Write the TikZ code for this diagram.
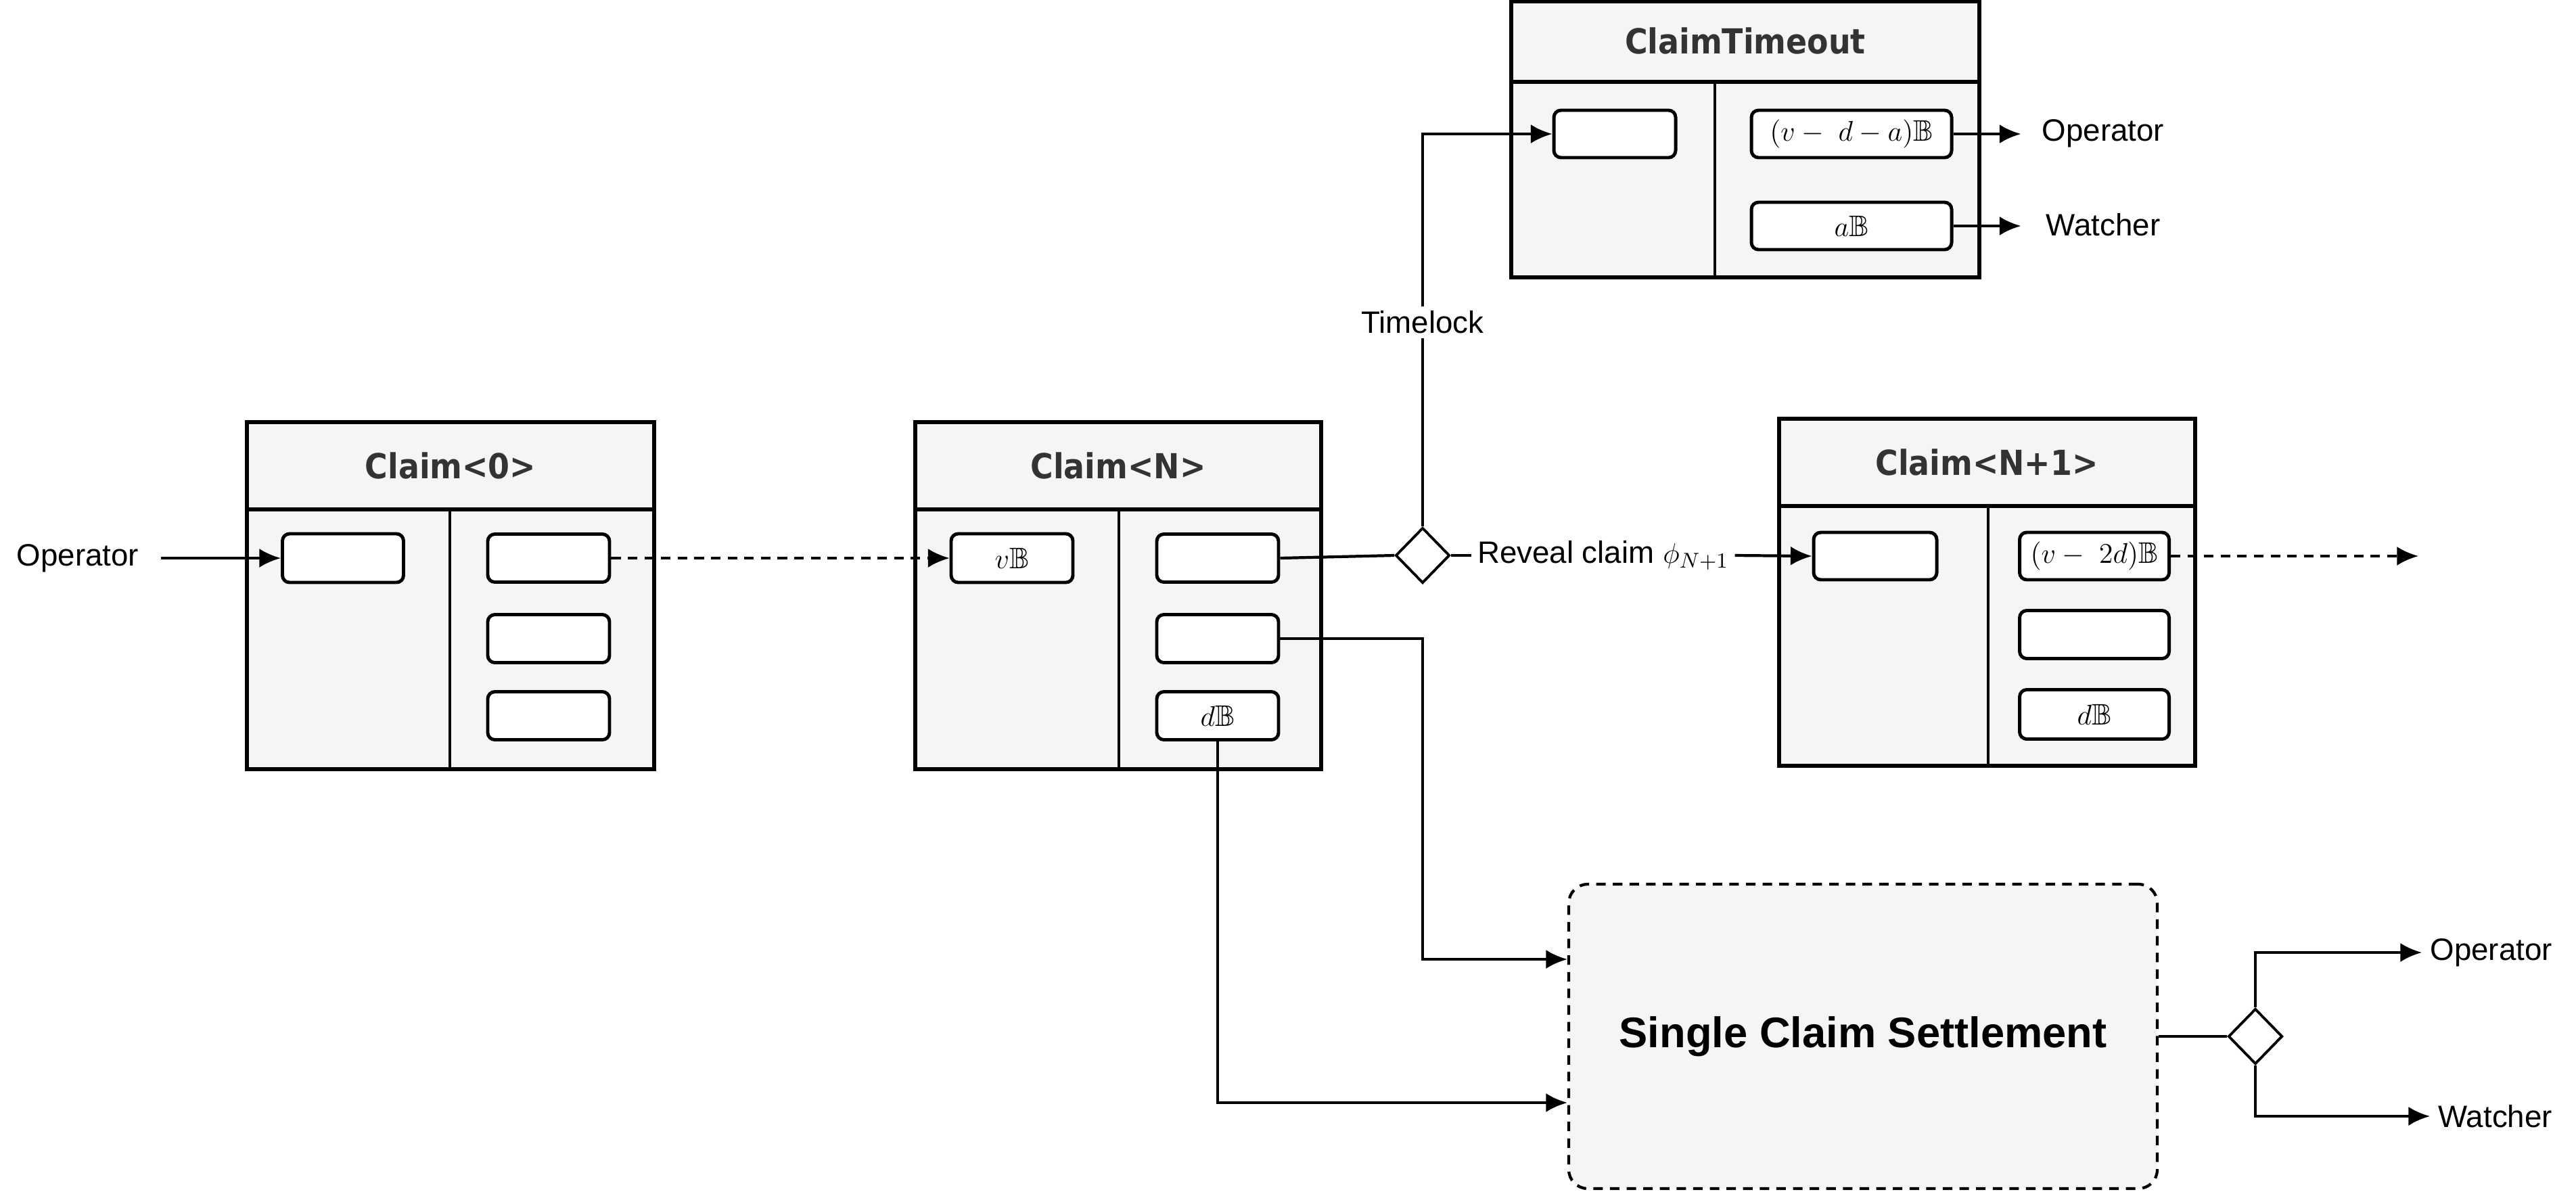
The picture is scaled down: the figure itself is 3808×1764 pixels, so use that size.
\documentclass[tikz,border=0pt]{standalone}
\usepackage{amssymb}
\usepackage{fontspec}
\setmainfont{Liberation Sans}
\newfontfamily\hdfont{DejaVu Sans Condensed}
\usetikzlibrary{shapes.geometric,arrows.meta}
\definecolor{boxgray}{HTML}{F5F5F5}
\definecolor{hdgray}{HTML}{333333}
\begin{document}
\begin{tikzpicture}[x=0.1mm,y=-0.1mm,
    tx/.style={line width=1.6pt,draw,fill=boxgray},
    slot/.style={draw,line width=1.4pt,fill=white,rounded corners=3pt,inner sep=0pt,font=\fontsize{12.5}{14}\selectfont},
    hd/.style={font=\hdfont\bfseries\fontsize{14.5}{16}\selectfont,text=hdgray},
    lbl/.style={font=\fontsize{13}{15}\selectfont},
    conn/.style={line width=1.2pt},
    dsh/.style={dash pattern=on 4pt off 3pt},
    arr/.style={conn,-{Latex[length=9pt,width=8pt]}},
    gate/.style={draw,diamond,line width=1.1pt,fill=white,inner sep=0pt,minimum width=0.8cm,minimum height=0.82cm}]
    \useasboundingbox (0,0) rectangle (3808,1764);
    % Claim<0>
    \draw[tx] (365,624) rectangle (967,1137);
    \draw[line width=1.6pt] (365,753) -- (967,753);
    \draw[line width=1pt] (665,753) -- (665,1137);
    \node[hd] (c0) at (666,688) {Claim<0>};
    \node[slot,minimum width=1.79cm,minimum height=0.72cm] (c0in) at (507,825) {};
    \node[slot,minimum width=1.8cm,minimum height=0.71cm] (c0a) at (811,825) {};
    \node[slot,minimum width=1.8cm,minimum height=0.71cm] (c0b) at (811,944) {};
    \node[slot,minimum width=1.8cm,minimum height=0.71cm] (c0c) at (811,1058) {};
    % Claim<N>
    \draw[tx] (1353,624) rectangle (1953,1137);
    \draw[line width=1.6pt] (1353,753) -- (1953,753);
    \draw[line width=1pt] (1654,753) -- (1654,1137);
    \node[hd] (cn) at (1653,688) {Claim<N>};
    \node[slot,minimum width=1.8cm,minimum height=0.72cm] (cnin) at (1496,825) {$v\mathbb{B}$};
    \node[slot,minimum width=1.8cm,minimum height=0.71cm] (cna) at (1800,825) {};
    \node[slot,minimum width=1.8cm,minimum height=0.71cm] (cnb) at (1800,944) {};
    \node[slot,minimum width=1.8cm,minimum height=0.71cm] (cnc) at (1800,1058) {$d\mathbb{B}$};
    % ClaimTimeout
    \draw[tx] (2234,2) rectangle (2926,410);
    \draw[line width=1.6pt] (2234,121) -- (2926,121);
    \draw[line width=1pt] (2535,121) -- (2535,410);
    \node[hd] (ct) at (2580,60) {ClaimTimeout};
    \node[slot,minimum width=1.8cm,minimum height=0.7cm] (ctin) at (2387,198) {};
    \node[slot,minimum width=2.96cm,minimum height=0.7cm] (cta) at (2737,198) {$(v-\ d-a)\mathbb{B}$};
    \node[slot,minimum width=2.96cm,minimum height=0.7cm] (ctb) at (2737,334) {$a\mathbb{B}$};
    \node[lbl] (ctop) at (3109,197) {Operator};
    \node[lbl] (ctw) at (3109,332) {Watcher};
    % Claim<N+1>
    \draw[tx] (2630,619) rectangle (3245,1132);
    \draw[line width=1.6pt] (2630,748) -- (3245,748);
    \draw[line width=1pt] (2939,748) -- (2939,1132);
    \node[hd] (cm) at (2937,683) {Claim<N+1>};
    \node[slot,minimum width=1.82cm,minimum height=0.7cm] (cmin) at (2772,822) {};
    \node[slot,minimum width=2.21cm,minimum height=0.7cm] (cma) at (3096,822) {$(v-\ 2d)\mathbb{B}$};
    \node[slot,minimum width=2.21cm,minimum height=0.71cm] (cmb) at (3096,938) {};
    \node[slot,minimum width=2.21cm,minimum height=0.73cm] (cmc) at (3096,1056) {$d\mathbb{B}$};
    \coordinate (cmout) at (3575,822);
    % Single Claim Settlement
    \node[draw,dsh,line width=1.2pt,fill=boxgray,rounded corners=8pt,minimum width=8.7cm,minimum height=4.5cm,
        font=\bfseries\fontsize{18}{20}\selectfont] (scs) at (2754,1532) {Single Claim Settlement};
    \node[gate] (g2) at (3334,1532) {};
    \node[lbl,anchor=west] (sop) at (3580,1408) {Operator};
    \node[lbl,anchor=west] (swa) at (3592,1650) {Watcher};
    % gates and links
    \node[lbl] (op0) at (115,825) {Operator};
    \node[gate] (g1) at (2103,821) {};
    \draw[arr] (op0.east) ++(20,0) -- (c0in.west);
    \draw[arr,dsh] (c0a.east) -- (cnin.west);
    \draw[conn] (cna.east) -- (g1.west);
    \draw[arr] (g1.north) |- (ctin.west) node[pos=0.26,fill=white,lbl,inner sep=2pt] {Timelock};
    \draw[conn] (g1.east) -- ++(30,0) node[lbl,anchor=west,inner sep=2pt] (rv) {Reveal claim $\phi_{N+1}$};
    \draw[arr] (rv.east) -- (cmin.west);
    \draw[arr] (cta.east) -- ++(100,0);
    \draw[arr] (ctb.east) -- ++(100,0);
    \draw[arr,dsh] (cma.east) -- (cmout);
    \draw[arr] (cnb.east) -| (2103,1418) -- (scs.west |- 0,1418);
    \draw[arr] (cnc.south) |- (scs.west |- 0,1630);
    \draw[conn] (scs.east) -- (g2.west);
    \draw[arr] (g2.north) |- (sop.west);
    \draw[arr] (g2.south) |- (swa.west);
\end{tikzpicture}
\end{document}
